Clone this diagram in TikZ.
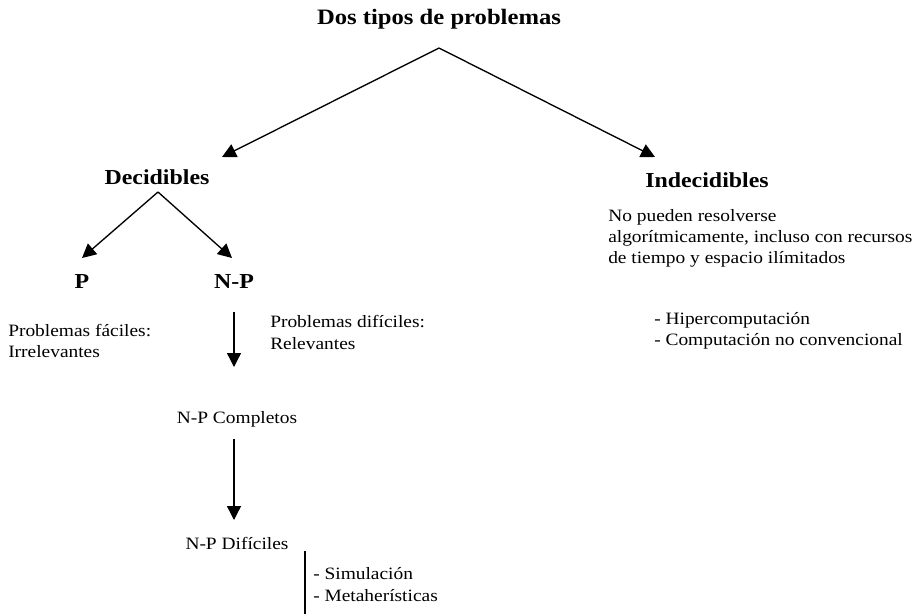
\documentclass[tikz,border=0pt]{standalone}
\usepackage{fontspec}
\setmainfont{Liberation Serif}[FakeStretch=1.12]
\usetikzlibrary{arrows.meta}

\begin{document}
\begin{tikzpicture}
[x=0.75pt,y=-0.75pt,
 every node/.style={inner sep=0pt,font=\fontsize{13}{16}\selectfont},
 head/.style={font=\fontsize{16}{19}\bfseries},
 txt/.style={anchor=west,align=left},
 arr/.style={line width=1pt,-{Triangle[length=10.5pt,width=10.5pt]}}]
\useasboundingbox (0,0) rectangle (917,614);
\node[head,font=\fontsize{16.5}{19}\bfseries] (title) at (439,19) {Dos tipos de problemas};
\node[head] (dec) at (157,177) {Decidibles};
\node[head] (indec) at (707,180) {Indecidibles};
\node[head] (p) at (82,282) {P};
\node[head] (np) at (234,282) {N-P};
\node[txt] (facil) at (8,341) {Problemas fáciles:\\Irrelevantes};
\node[txt] (dificil) at (270,332.5) {Problemas difíciles:\\Relevantes};
\node (npc) at (237,419) {N-P Completos};
\node (npd) at (237,543) {N-P Difíciles};
\node[txt] (metodos) at (313,584.5) {- Simulación\\- Metaherísticas};
\node[txt,anchor=north west] (nopueden) at (608,209) {No pueden resolverse\\algorítmicamente, incluso con recursos\\de tiempo y espacio ilímitados};
\node[txt] (hiper) at (654,330.5) {- Hipercomputación\\- Computación no convencional};
% puntos de las flechas
\coordinate (top) at (439,48);
\coordinate (tdec) at (222,157);
\coordinate (tindec) at (655,157);
\coordinate (bdec) at (158,192);
\coordinate (tp) at (82,258);
\coordinate (tnp) at (232,258);
\coordinate (bnp) at (234,312);
\coordinate (tnpc) at (234,367);
\coordinate (bnpc) at (234,439);
\coordinate (tnpd) at (234,520);
\coordinate (sa) at (305,551);
\coordinate (sb) at (305,614);
\foreach \from/\to in {top/tdec,top/tindec,bdec/tp,bdec/tnp,bnp/tnpc,bnpc/tnpd}
\draw[arr] (\from) -- (\to);
\draw[line width=1pt] (sa) -- (sb);
\end{tikzpicture}
\end{document}
